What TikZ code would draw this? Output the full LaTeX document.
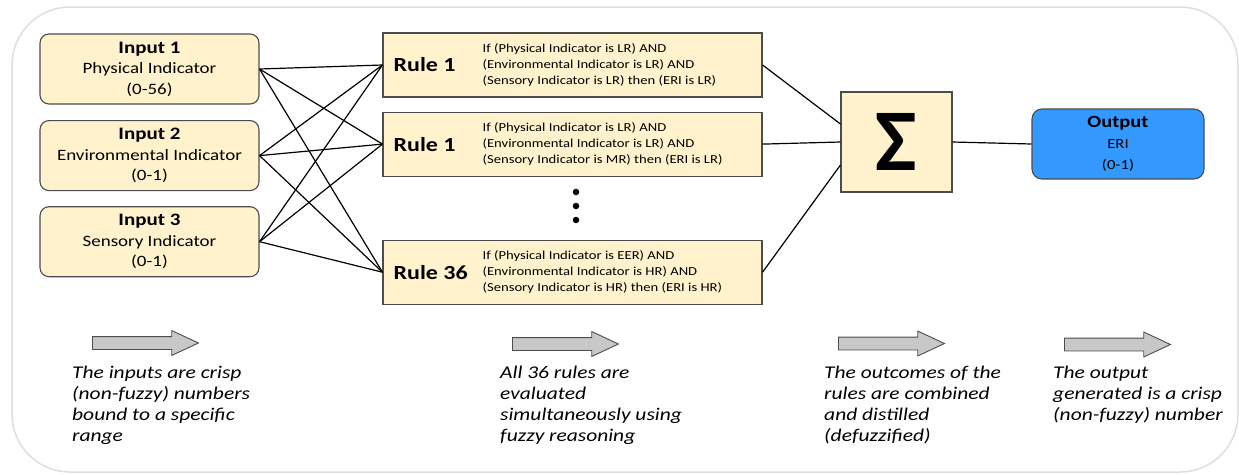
\documentclass[tikz,border=0pt]{standalone}
\usepackage{fontspec}
\setmainfont{Carlito}[FakeStretch=1.2]
\newfontfamily\sigmafont{Carlito}
\usetikzlibrary{positioning,shapes.arrows}
\definecolor{beige}{HTML}{FFF2CC}
\definecolor{outblue}{HTML}{3399FF}
\definecolor{framegray}{HTML}{DEDEDE}
\definecolor{flowgray}{HTML}{C8C8C8}

\begin{document}
\begin{tikzpicture}[x=1pt,y=-1pt]
  \tikzstyle{inbox}=[rectangle, rounded corners=9pt, draw=black!70, line width=1.1pt, fill=beige, minimum width=219pt, minimum height=70pt, align=center, inner sep=0pt, font=\fontsize{15.8}{20.5}\selectfont]
  \tikzstyle{rulebox}=[rectangle, draw=black!70, line width=1.1pt, fill=beige, minimum width=379pt, minimum height=64pt]
  \tikzstyle{rulename}=[anchor=west, inner sep=0pt, font=\fontsize{20}{24}\selectfont\bfseries]
  \tikzstyle{ruletext}=[anchor=west, inner sep=0pt, align=left, font=\fontsize{12.2}{16}\selectfont]
  \tikzstyle{sumbox}=[rectangle, draw=black!70, line width=1.1pt, fill=beige, minimum width=111pt, minimum height=100pt, inner sep=0pt, font=\sigmafont\fontsize{88}{88}\selectfont\bfseries]
  \tikzstyle{outbox}=[rectangle, rounded corners=10pt, draw=black!70, line width=1.1pt, fill=outblue, minimum width=172pt, minimum height=70pt, align=center, inner sep=0pt, font=\fontsize{13.9}{21}\selectfont]
  \tikzstyle{connect}=[line width=1.2pt, black]
  \tikzstyle{flow}=[single arrow, draw=black!70, line width=0.9pt, fill=flowgray, inner xsep=0pt, inner ysep=6pt, minimum height=106pt, single arrow head extend=6pt, single arrow tip angle=50, anchor=tail]
  \tikzstyle{note}=[anchor=north west, align=left, inner sep=0pt, font=\fontsize{17.9}{21}\selectfont\itshape]
  \tikzstyle{dot}=[circle, fill=black, inner sep=0pt, minimum size=6.5pt]

  \useasboundingbox (0,0) rectangle (1239,474);
  \draw[framegray, line width=1.5pt, rounded corners=58pt] (12,7) rectangle (1238,472);

  % inputs
  \node[inbox] (in1) at (149.5,69) {{\fontsize{17.5}{20.5}\selectfont\bfseries Input 1}\\Physical Indicator\\(0-56)};
  \node[inbox, below=15.5pt of in1] (in2) {{\fontsize{17.5}{20.5}\selectfont\bfseries Input 2}\\Environmental Indicator\\(0-1)};
  \node[inbox, below=15pt of in2] (in3) {{\fontsize{17.5}{20.5}\selectfont\bfseries Input 3}\\Sensory Indicator\\(0-1)};

  % rules
  \node[rulebox] (r1) at (572.5,65) {};
  \node[rulebox, below=14pt of r1] (r2) {};
  \node[rulebox, below=63pt of r2] (r36) {};
  \node[rulename] (r1name) at ([xshift=11pt]r1.west) {Rule 1};
  \node[rulename] (r2name) at ([xshift=11pt]r2.west) {Rule 1};
  \node[rulename] (r36name) at ([xshift=11pt]r36.west) {Rule 36};
  \node[ruletext] (r1text) at ([xshift=100pt]r1.west) {If (Physical Indicator is LR) AND\\(Environmental Indicator is LR) AND\\(Sensory Indicator is LR) then (ERI is LR)};
  \node[ruletext] (r2text) at ([xshift=100pt]r2.west) {If (Physical Indicator is LR) AND\\(Environmental Indicator is LR) AND\\(Sensory Indicator is MR) then (ERI is LR)};
  \node[ruletext] (r36text) at ([xshift=100pt]r36.west) {If (Physical Indicator is EER) AND\\(Environmental Indicator is HR) AND\\(Sensory Indicator is HR) then (ERI is HR)};
  \foreach \y/\n in {192/1,206/2,220/3}
    \node[dot] (dot\n) at (576,\y) {};

  % sum and output
  \node[sumbox] (sum) at (896.5,142) {Σ};
  \node[outbox] (out) at (1118,144) {{\fontsize{17.1}{21}\selectfont\bfseries Output}\\ERI\\(0-1)};

  \foreach \i in {in1,in2,in3}
    \foreach \r in {r1,r2,r36}
      \path (\i.east) edge [connect] (\r.west);
  \path (r1.east) edge [connect] ([yshift=18pt]sum.west);
  \path (r2.east) edge [connect] (sum.west);
  \path (r36.east) edge [connect] ([yshift=-23pt]sum.west);
  \path (sum.east) edge [connect] (out.west);

  % stages
  \node[flow] (f1) at (92,343) {};
  \node[flow] (f2) at (512,344) {};
  \node[flow] (f3) at (838,343.5) {};
  \node[flow] (f4) at (1064,344.5) {};
  \node[note] (n1) at (72,366) {The inputs are crisp\\(non-fuzzy) numbers\\bound to a specific\\range};
  \node[note] (n2) at (500,366) {All 36 rules are\\evaluated\\simultaneously using\\fuzzy reasoning};
  \node[note] (n3) at (824,366) {The outcomes of the\\rules are combined\\and distilled\\(defuzzified)};
  \node[note] (n4) at (1053,366) {The output\\generated is a crisp\\(non-fuzzy) number};
\end{tikzpicture}
\end{document}
